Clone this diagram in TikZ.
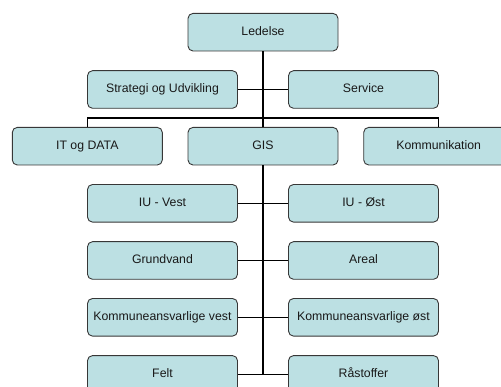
\documentclass[tikz,border=0pt]{standalone}
\usepackage{fontspec}
\setmainfont{Liberation Sans}
\definecolor{boxfill}{RGB}{188,224,227}
\definecolor{boxline}{RGB}{55,55,55}
\definecolor{txt}{RGB}{25,25,25}
\begin{document}
\begin{tikzpicture}[x=1pt,y=-1pt,
  unit/.style={draw=boxline, fill=boxfill, line width=0.9pt, rounded corners=5pt,
    minimum width=150pt, minimum height=37.6pt, inner sep=0pt,
    text height=8.9pt, text depth=2.6pt,
    font=\fontsize{12.3}{14}\selectfont, text=txt},
  link/.style={draw=black, line width=1.3pt}]
\useasboundingbox (0,0) rectangle (501,387);
\clip (0,0) rectangle (501,387);
\coordinate (busL) at (87.3,118);
\coordinate (busR) at (438.7,118);
\coordinate (busM) at (263,118);
\node[unit] (led) at (263,32.2) {Ledelse};
\node[unit] (strat) at (162.5,89.5) {Strategi og Udvikling};
\node[unit] (serv) at (363.5,89.5) {Service};
\node[unit] (it) at (87.3,146.2) {IT og DATA};
\node[unit] (gis) at (263,146.2) {GIS};
\node[unit] (kom) at (438.7,146.2) {Kommunikation};
\node[unit] (iuv) at (162.5,203.3) {IU - Vest};
\node[unit] (iuo) at (363.5,203.3) {IU - Øst};
\node[unit] (grund) at (162.5,260.5) {Grundvand};
\node[unit] (areal) at (363.5,260.5) {Areal};
\node[unit] (kav) at (162.5,317.3) {Kommuneansvarlige vest};
\node[unit] (kao) at (363.5,317.3) {Kommuneansvarlige øst};
\node[unit] (felt) at (162.5,374.4) {Felt};
\node[unit] (raa) at (363.5,374.4) {Råstoffer};
\coordinate (gisEnd) at (263,374.4);
\draw[link] (led.south) -- (busM);
\draw[link] (strat.east) -- (serv.west);
\draw[link] (busL) -- (busR);
\draw[link] (busL) -- (it.north);
\draw[link] (busM) -- (gis.north);
\draw[link] (busR) -- (kom.north);
\draw[link] (gis.south) -- (gisEnd);
\draw[link] (iuv.east) -- (iuo.west);
\draw[link] (grund.east) -- (areal.west);
\draw[link] (kav.east) -- (kao.west);
\draw[link] (felt.east) -- (raa.west);
\end{tikzpicture}
\end{document}
